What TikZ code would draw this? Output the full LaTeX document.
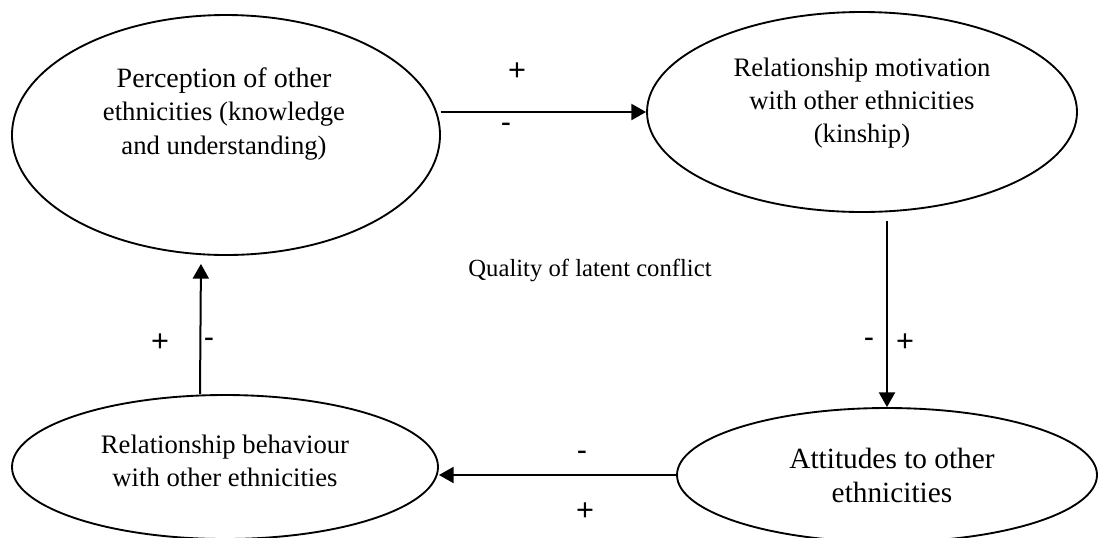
\documentclass[tikz,border=0pt]{standalone}
\usepackage{fontspec}
\setmainfont{Liberation Serif}
\newfontfamily\signfont{Liberation Sans}
\usetikzlibrary{shapes.geometric,arrows.meta,calc}
\tikzset{
  oval/.style={draw, ellipse, line width=1.4pt, inner sep=0pt},
  ovaltext/.style={align=center, font=\fontsize{20}{25}\selectfont, inner sep=0pt},
  arr/.style={line width=1.5pt, -{Triangle[length=11pt,width=12pt]}},
  sign/.style={font=\signfont\fontsize{23}{26}\selectfont, inner sep=0pt},
  mid/.style={font=\fontsize{18.5}{22}\selectfont, inner sep=0pt}
}
\begin{document}
\begin{tikzpicture}[x=0.75pt,y=-0.75pt]
\useasboundingbox (0,0) rectangle (1098,537);
\clip (0,0) rectangle (1098,537);
% ellipses
\node[oval, minimum width=428*0.75pt, minimum height=240*0.75pt] (p) at (226,135) {};
\node[oval, minimum width=430*0.75pt, minimum height=200*0.75pt] (m) at (862,112) {};
\node[oval, minimum width=426*0.75pt, minimum height=144*0.75pt] (b) at (225,467) {};
\node[oval, minimum width=420*0.75pt, minimum height=134*0.75pt] (a) at (887,475) {};
% texts
\node[ovaltext] (pt) at (224,114) {\fontsize{21}{25}\selectfont Perception of other\\ethnicities (knowledge\\and understanding)};
\node[ovaltext] (mt) at (862,103) {Relationship motivation\\with other ethnicities\\(kinship)};
\node[ovaltext] (bt) at (225,461) {Relationship behaviour\\with other ethnicities};
\node[ovaltext, font=\fontsize{22}{25.5}\selectfont] (at) at (892,475) {Attitudes to other\\ethnicities};
\node[mid] (q) at (590,270) {Quality of latent conflict};
% arrows
\draw[arr] (m.west -| p.east) -- (m.west);
\draw[arr, shorten <=8*0.75pt] (m.south -| a.north) -- (a.north);
\draw[arr] (a.west) -- (a.west -| b.east);
\draw[arr, shorten >=8*0.75pt] ([xshift=-25*0.75pt]b.north) -- ([xshift=-25*0.75pt]p.south);
% signs
\node[sign] (s1) at (517,72) {+};
\node[sign] (s2) at (506,128) {-};
\node[sign] (s3) at (869,343) {-};
\node[sign] (s4) at (905,343) {+};
\node[sign] (s5) at (582,456) {-};
\node[sign] (s6) at (585,512) {+};
\node[sign] (s7) at (160,343) {+};
\node[sign] (s8) at (209,343) {-};
\end{tikzpicture}
\end{document}
